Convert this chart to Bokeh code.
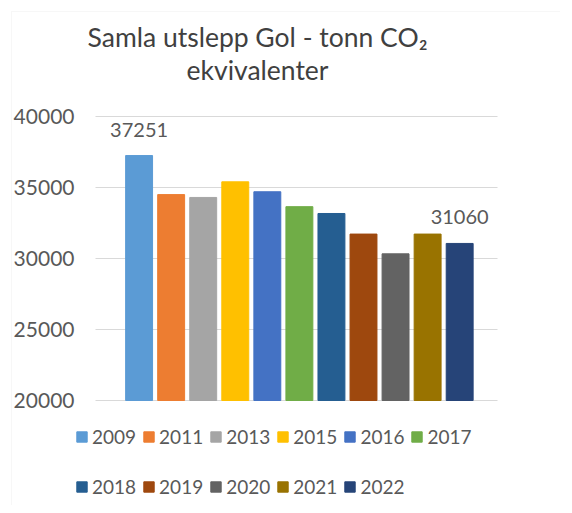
from bokeh.plotting import figure
from bokeh.models import ColumnDataSource, Range1d, Legend, LegendItem, Label, BoxAnnotation
from bokeh.core.properties import value
from bokeh.embed import file_html
from bokeh.resources import INLINE

years = ["2009", "2011", "2013", "2015", "2016", "2017", "2018", "2019", "2020", "2021", "2022"]
emissions = [37251, 34500, 34300, 35400, 34700, 33650, 33170, 31720, 30330, 31720, 31060]
colors = ["#5B9BD5", "#ED7D31", "#A5A5A5", "#FFC000", "#4472C4", "#70AD47",
          "#255E91", "#9E480E", "#636363", "#997300", "#264478"]
data_labels = ["37251", "", "", "", "", "", "", "", "", "", "31060"]
y_ticks = [20000, 25000, 30000, 35000, 40000]
title_lines = ["Samla utslepp Gol - tonn CO₂", "ekvivalenter"]

FONT = "Lato"
GREY = "#595959"

# layout (canvas pixels)
W, H = 560, 505
PL, PR, PT, PB = 95, 497, 116, 400          # plot area edges
X_LO, X_HI = -1.36, 11.18                   # category axis extent
Y_LO, Y_HI = y_ticks[0], y_ticks[-1]
sx = (PR - PL) / (X_HI - X_LO)
sy = (PB - PT) / (Y_HI - Y_LO)
x_range = Range1d(X_LO - PL / sx, X_HI + (W - PR) / sx)
y_range = Range1d(Y_LO - (H - PB) / sy, Y_HI + PT / sy)

src = ColumnDataSource(dict(x=list(range(len(years))), top=emissions, color=colors,
                            year=years, lab=data_labels))

p = figure(width=W, height=H, output_backend="svg", toolbar_location=None, title=None,
           x_range=x_range, y_range=y_range,
           min_border_left=0, min_border_right=0, min_border_top=0, min_border_bottom=0)
p.outline_line_color = None
p.background_fill_color = "white"
p.border_fill_color = "white"
p.xaxis.visible = False
p.yaxis.visible = False
p.xgrid.visible = False
p.ygrid.visible = False

# chart border (faint)
p.add_layout(BoxAnnotation(left=11, right=W + 10, bottom=-10, top=H - 11,
                           left_units="screen", right_units="screen",
                           top_units="screen", bottom_units="screen",
                           fill_alpha=0, line_color="#E6E6E6", line_width=1))

# gridlines and value-axis labels
p.segment(x0=X_LO, x1=X_HI, y0=y_ticks, y1=y_ticks, line_color="#D9D9D9", line_width=1)
p.text(x=X_LO, y=y_ticks, text=[str(t) for t in y_ticks], x_offset=-21,
       text_align="right", text_baseline="middle",
       text_font=value(FONT), text_font_size="21px", text_color=GREY)

r = p.vbar(x="x", top="top", bottom=Y_LO, width=0.84, color="color", source=src)

p.text(x="x", y="top", text="lab", source=src, y_offset=-26,
       text_align="center", text_baseline="middle",
       text_font=value(FONT), text_font_size="20px", text_color=GREY)

# titles
p.add_layout(Label(x=257, y=H - 36, x_units="screen", y_units="screen", text=title_lines[0],
                   text_align="center", text_baseline="middle", text_font=FONT,
                   text_font_size="26.5px", text_color="#404040"))
p.add_layout(Label(x=257, y=H - 69, x_units="screen", y_units="screen", text=title_lines[1],
                   text_align="center", text_baseline="middle", text_font=FONT,
                   text_font_size="26.5px", text_color="#404040"))

def make_legend(idxs, loc):
    items = [LegendItem(label=years[i], renderers=[r], index=i) for i in idxs]
    lg = Legend(items=items, orientation="horizontal", location=loc,
                glyph_width=13, glyph_height=13, label_standoff=4, spacing=6,
                padding=0, margin=0, border_line_color=None, background_fill_alpha=0,
                label_text_font=FONT, label_text_font_size="19px", label_text_color=GREY,
                label_height=20)
    p.add_layout(lg, "center")

make_legend(range(0, 6), (75, H - 438 - 10))
make_legend(range(6, 11), (75, H - 488 - 10))

open("out.html", "w").write(file_html(p, INLINE))
